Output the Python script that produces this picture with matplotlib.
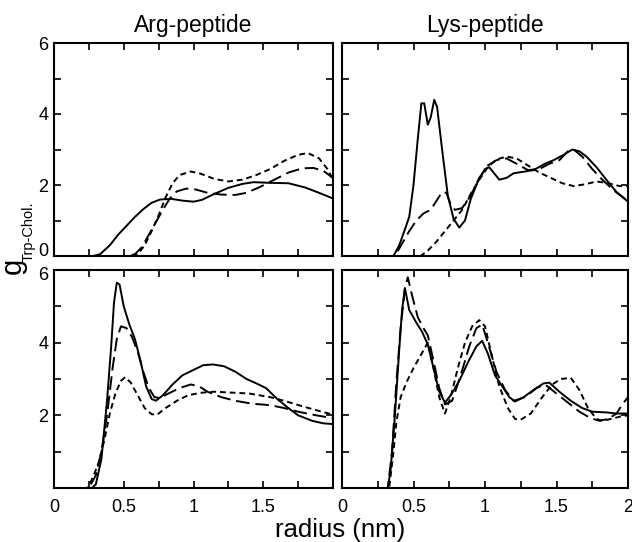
import matplotlib
matplotlib.use("Agg")
import matplotlib.pyplot as plt
from matplotlib.ticker import MultipleLocator

plt.rcParams["font.family"] = ["Liberation Sans", "DejaVu Sans"]

titles = ["Arg-peptide", "Lys-peptide"]

# --- Arg-peptide, upper panel ---
arg_top_solid_x = [0, 0.28, 0.33, 0.4, 0.46, 0.52, 0.58, 0.64, 0.7, 0.76, 0.84, 0.92, 1.0, 1.06, 1.15,
                   1.25, 1.35, 1.43, 1.55, 1.68, 1.8, 1.9, 2.0]
arg_top_solid_y = [0, 0, 0.05, 0.3, 0.6, 0.85, 1.1, 1.32, 1.5, 1.59, 1.61, 1.56, 1.53, 1.58, 1.75,
                   1.92, 2.03, 2.08, 2.06, 2.05, 1.93, 1.78, 1.62]
arg_top_long_x = [0, 0.53, 0.58, 0.63, 0.68, 0.73, 0.78, 0.83, 0.88, 0.95, 1.02, 1.1, 1.2, 1.3, 1.38,
                  1.48, 1.58, 1.68, 1.78, 1.86, 1.93, 2.0]
arg_top_long_y = [0, 0, 0.05, 0.25, 0.6, 0.95, 1.3, 1.62, 1.82, 1.9, 1.87, 1.78, 1.73, 1.72, 1.78,
                  1.95, 2.15, 2.35, 2.47, 2.48, 2.4, 2.2]
arg_top_short_x = [0, 0.55, 0.6, 0.65, 0.7, 0.75, 0.8, 0.85, 0.9, 0.98, 1.05, 1.15, 1.25, 1.35, 1.45,
                   1.55, 1.65, 1.75, 1.82, 1.9, 1.96, 2.0]
arg_top_short_y = [0, 0, 0.05, 0.3, 0.7, 1.15, 1.65, 2.05, 2.28, 2.38, 2.32, 2.17, 2.1, 2.15, 2.28,
                   2.45, 2.68, 2.85, 2.9, 2.75, 2.45, 2.15]

# --- Lys-peptide, upper panel ---
lys_top_solid_x = [0, 0.36, 0.4, 0.44, 0.47, 0.5, 0.53, 0.555, 0.575, 0.6, 0.62, 0.645, 0.665, 0.7,
                   0.74, 0.78, 0.82, 0.86, 0.9, 0.95, 1.0, 1.03, 1.1, 1.15, 1.2, 1.28, 1.34, 1.42,
                   1.48, 1.55, 1.61, 1.66, 1.71, 1.78, 1.85, 1.92, 2.0]
lys_top_solid_y = [0, 0, 0.3, 0.75, 1.1, 2.0, 3.3, 4.3, 4.3, 3.7, 3.9, 4.4, 4.2, 3.0,
                   1.7, 1.05, 0.8, 1.0, 1.6, 2.1, 2.45, 2.5, 2.15, 2.2, 2.33, 2.38, 2.42, 2.6,
                   2.7, 2.85, 3.0, 2.95, 2.8, 2.5, 2.14, 1.8, 1.53]
lys_top_long_x = [0, 0.37, 0.42, 0.47, 0.52, 0.57, 0.62, 0.66, 0.7, 0.73, 0.76, 0.79, 0.84, 0.9, 0.96,
                  1.02, 1.08, 1.15, 1.22, 1.3, 1.38, 1.45, 1.52, 1.58, 1.62, 1.68, 1.75, 1.82,
                  1.9, 2.0]
lys_top_long_y = [0, 0, 0.35, 0.7, 1.0, 1.2, 1.3, 1.55, 1.8, 1.78, 1.45, 1.3, 1.35, 1.7, 2.2,
                  2.55, 2.7, 2.75, 2.6, 2.42, 2.45, 2.6, 2.7, 2.95, 3.0, 2.8, 2.45, 2.15,
                  1.85, 1.55]
lys_top_short_x = [0, 0.55, 0.6, 0.66, 0.72, 0.78, 0.84, 0.9, 0.96, 1.02, 1.08, 1.15, 1.22, 1.3, 1.38,
                   1.46, 1.54, 1.62, 1.7, 1.78, 1.86, 1.94, 2.0]
lys_top_short_y = [0, 0, 0.15, 0.4, 0.7, 1.0, 1.3, 1.75, 2.15, 2.5, 2.72, 2.8, 2.75, 2.55, 2.35,
                   2.2, 2.05, 1.97, 2.02, 2.1, 2.05, 1.97, 1.97]

# --- Arg-peptide, lower panel ---
arg_bot_solid_x = [0, 0.27, 0.3, 0.34, 0.38, 0.41, 0.43, 0.45, 0.47, 0.5, 0.54, 0.58, 0.62, 0.66, 0.7,
                   0.73, 0.78, 0.85, 0.92, 1.0, 1.07, 1.14, 1.22, 1.3, 1.38, 1.45, 1.52, 1.6,
                   1.68, 1.75, 1.85, 1.93, 2.0]
arg_bot_solid_y = [0, 0, 0.1, 0.8, 2.4, 3.9, 5.1, 5.65, 5.6, 5.0, 4.5, 4.1, 3.5, 2.8, 2.45,
                   2.4, 2.55, 2.85, 3.1, 3.25, 3.38, 3.4, 3.35, 3.2, 3.0, 2.88, 2.75, 2.45,
                   2.2, 2.0, 1.85, 1.78, 1.76]
arg_bot_long_x = [0, 0.25, 0.3, 0.34, 0.38, 0.42, 0.45, 0.48, 0.52, 0.56, 0.6, 0.64, 0.68, 0.72, 0.76,
                  0.82, 0.9, 0.98, 1.04, 1.1, 1.2, 1.3, 1.42, 1.55, 1.65, 1.75, 1.88, 2.0]
arg_bot_long_y = [0, 0, 0.35, 1.0, 2.0, 3.3, 4.1, 4.45, 4.4, 4.15, 3.75, 3.2, 2.75, 2.5, 2.48,
                  2.6, 2.75, 2.85, 2.8, 2.65, 2.5, 2.4, 2.32, 2.28, 2.2, 2.1, 2.0, 1.92]
arg_bot_short_x = [0, 0.24, 0.28, 0.32, 0.36, 0.4, 0.44, 0.48, 0.51, 0.55, 0.6, 0.65, 0.7, 0.74, 0.8,
                   0.88, 0.96, 1.05, 1.15, 1.25, 1.4, 1.55, 1.65, 1.78, 1.9, 2.0]
arg_bot_short_y = [0, 0, 0.3, 0.7, 1.3, 2.05, 2.6, 2.95, 3.05, 2.9, 2.55, 2.2, 2.03, 2.02, 2.2,
                   2.4, 2.55, 2.62, 2.65, 2.63, 2.6, 2.5, 2.4, 2.25, 2.12, 2.02]

# --- Lys-peptide, lower panel ---
lys_bot_solid_x = [0, 0.32, 0.34, 0.37, 0.4, 0.42, 0.44, 0.47, 0.52, 0.56, 0.6, 0.64, 0.68, 0.72,
                   0.76, 0.82, 0.88, 0.94, 0.98, 1.02, 1.07, 1.12, 1.17, 1.21, 1.27, 1.34, 1.41,
                   1.45, 1.52, 1.6, 1.68, 1.75, 1.85, 1.92, 2.0]
lys_bot_solid_y = [0, 0, 0.5, 2.0, 3.8, 4.9, 5.5, 4.9, 4.55, 4.3, 3.95, 3.3, 2.65, 2.35,
                   2.55, 2.95, 3.45, 3.9, 4.05, 3.7, 3.1, 2.8, 2.5, 2.38, 2.5, 2.7, 2.88,
                   2.9, 2.65, 2.4, 2.2, 2.1, 2.08, 2.05, 2.05]
lys_bot_long_x = [0, 0.32, 0.35, 0.38, 0.41, 0.44, 0.46, 0.49, 0.53, 0.57, 0.6, 0.64, 0.68, 0.72, 0.77,
                  0.83, 0.89, 0.94, 0.98, 1.02, 1.08, 1.14, 1.2, 1.28, 1.36, 1.42, 1.5, 1.58,
                  1.66, 1.74, 1.8, 1.86, 1.92, 1.96, 2.0]
lys_bot_long_y = [0, 0, 1.0, 2.9, 4.4, 5.5, 5.8, 5.3, 4.7, 4.4, 4.2, 3.5, 2.75, 2.3, 2.4,
                  3.1, 3.9, 4.4, 4.5, 4.0, 3.2, 2.7, 2.4, 2.5, 2.75, 2.85, 2.6, 2.35,
                  2.1, 1.92, 1.85, 1.9, 2.05, 2.3, 2.5]
lys_bot_short_x = [0, 0.33, 0.36, 0.38, 0.41, 0.45, 0.5, 0.55, 0.6, 0.64, 0.68, 0.72, 0.76, 0.81, 0.86,
                   0.91, 0.96, 1.0, 1.05, 1.1, 1.16, 1.21, 1.25, 1.32, 1.4, 1.47, 1.53, 1.6,
                   1.66, 1.72, 1.78, 1.82, 1.88, 1.95, 2.0]
lys_bot_short_y = [0, 0, 1.0, 1.8, 2.5, 2.9, 3.3, 3.65, 4.0, 3.3, 2.5, 2.05, 2.5, 3.3, 4.0,
                   4.45, 4.62, 4.45, 3.6, 2.8, 2.2, 1.9, 1.88, 2.05, 2.5, 2.85, 3.0, 3.03,
                   2.7, 2.2, 1.9, 1.85, 1.9, 1.97, 2.0]

panels = [
    [(arg_top_solid_x, arg_top_solid_y), (arg_top_long_x, arg_top_long_y), (arg_top_short_x, arg_top_short_y)],
    [(lys_top_solid_x, lys_top_solid_y), (lys_top_long_x, lys_top_long_y), (lys_top_short_x, lys_top_short_y)],
    [(arg_bot_solid_x, arg_bot_solid_y), (arg_bot_long_x, arg_bot_long_y), (arg_bot_short_x, arg_bot_short_y)],
    [(lys_bot_solid_x, lys_bot_solid_y), (lys_bot_long_x, lys_bot_long_y), (lys_bot_short_x, lys_bot_short_y)],
]
styles = ["-", (0, (7, 3)), (0, (3, 2))]

W, H = 632, 542
fig = plt.figure(figsize=(W / 100, H / 100), dpi=100)
cols = [(54, 333), (342, 628)]
rows = [(43, 256), (270, 488)]

for i, curves in enumerate(panels):
    r, c = divmod(i, 2)
    x0, x1 = cols[c]
    y0, y1 = rows[r]
    ax = fig.add_axes([x0 / W, 1 - y1 / H, (x1 - x0) / W, (y1 - y0) / H])
    for (x, y), ls in zip(curves, styles):
        ax.plot(x, y, color="black", lw=1.4, linestyle=ls)
    ax.set_xlim(0, 2)
    ax.set_ylim(0, 6)
    ax.xaxis.set_major_locator(MultipleLocator(0.25))
    ax.yaxis.set_major_locator(MultipleLocator(1))
    ax.tick_params(direction="in", top=True, right=True, length=5, width=1.2,
                   labelsize=13, pad=4)
    for s in ax.spines.values():
        s.set_linewidth(1.5)
    if c == 0:
        ax.set_yticks(range(7), ["", "", "2", "", "4", "", "6" if r == 0 else ""])
    else:
        ax.set_yticks(range(7), [""] * 7)
    if r == 1:
        xt = [i * 0.25 for i in range(9)]
        xl = ["0", "", "0.5", "", "1", "", "1.5", "", "2" if c == 1 else ""]
        ax.set_xticks(xt, xl)
        ax.tick_params(axis="x", pad=8)
    else:
        ax.set_xticks([i * 0.25 for i in range(9)], [""] * 9)
        ax.set_title(titles[c], fontsize=16.5, pad=8)

# the crowded "0" / "6" pair between the left panels, nudged apart as in the original
fig.text(48 / W, 1 - 251 / H, "0", fontsize=13, ha="right", va="center")
fig.text(48 / W, 1 - 276 / H, "6", fontsize=13, ha="right", va="center")

fig.text(340 / W, 1 - 530 / H, "radius (nm)", fontsize=18.5, ha="center", va="center")
fig.text(13 / W, 1 - 266 / H, "g", fontsize=21, rotation=90, ha="center", va="center")
fig.text(29 / W, 1 - 232 / H, "Trp-Chol.", fontsize=10.5, rotation=90, ha="center", va="center")

fig.savefig("out.png", dpi=100)
